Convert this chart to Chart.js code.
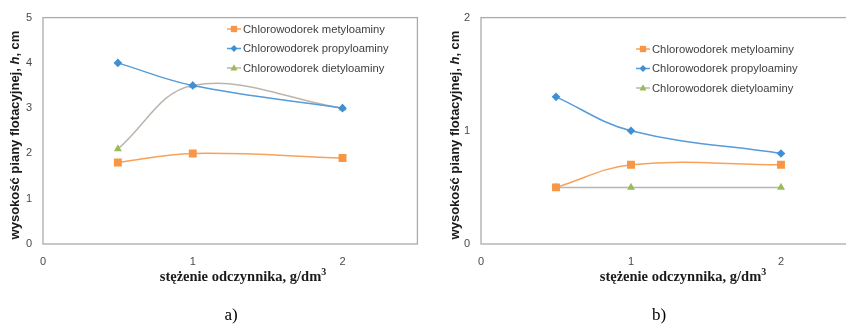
<!DOCTYPE html>
<html><head><meta charset="utf-8">
<script src="https://cdn.jsdelivr.net/npm/chart.js@4.4.0/dist/chart.umd.min.js"></script>
<style>
html,body{margin:0;padding:0;background:#fff;}
#wrap{position:relative;width:846px;height:326px;overflow:hidden;background:#fff;}
#boxA{position:absolute;left:0;top:0;width:423px;height:326px;}
#boxB{position:absolute;left:423px;top:0;width:440px;height:326px;}
canvas{display:block}
</style></head><body>
<div id="wrap"><div id="boxA"><canvas id="cA" width="423" height="326"></canvas></div><div id="boxB"><canvas id="cB" width="440" height="326"></canvas></div></div>
<script>
// ---- data ----
const concentrations = [0.5, 1, 2];
const seriesLabels = ['Chlorowodorek metyloaminy', 'Chlorowodorek propyloaminy', 'Chlorowodorek dietyloaminy'];
const metylA = [1.8, 2.0, 1.9];
const propylA = [4.0, 3.5, 3.0];
const dietylA = [2.1, 3.5, 3.0];
const metylB = [0.5, 0.7, 0.7];
const propylB = [1.3, 1.0, 0.8];
const dietylB = [0.5, 0.5, 0.5];
const xTicks = [0, 1, 2];
const yTicksA = [0, 1, 2, 3, 4, 5];
const yTicksB = [0, 1, 2];
const yTitleRuns = [['wysokość piany flotacyjnej, ', 'normal'], ['h', 'italic'], [', cm', 'normal']];
const xTitleText = 'stężenie odczynnika, g/dm';
const xTitleSup = '3';

// ---- styles ----
const styles = [
  {line: '#f7a25a', fill: '#f79646', shape: 'rect', r: 5.6},
  {line: '#559cd8', fill: '#3f8fd6', shape: 'rectRot', r: 4.3},
  {line: '#bdb5ad', fill: '#9bbb59', shape: 'triangle', r: 4.6}
];

function pts(vals) { return concentrations.map((x, i) => ({x: x, y: vals[i]})); }

function drawShape(ctx, shape, x, y, r, color) {
  ctx.fillStyle = color;
  ctx.beginPath();
  if (shape === 'rect') {
    const s = r * Math.SQRT1_2;
    ctx.rect(x - s, y - s, 2 * s, 2 * s);
  } else if (shape === 'rectRot') {
    ctx.moveTo(x, y - r); ctx.lineTo(x + r, y); ctx.lineTo(x, y + r); ctx.lineTo(x - r, y); ctx.closePath();
  } else {
    ctx.moveTo(x, y - r); ctx.lineTo(x + r * 0.95, y + r * 0.7); ctx.lineTo(x - r * 0.95, y + r * 0.7); ctx.closePath();
  }
  ctx.fill();
}

function drawRuns(ctx, runs, cx, cy) {
  let total = 0;
  runs.forEach(r => { ctx.font = r.f; r.w = ctx.measureText(r.t).width; total += r.w; });
  let x = cx - total / 2;
  ctx.textAlign = 'left';
  ctx.textBaseline = 'middle';
  runs.forEach(r => { ctx.font = r.f; ctx.fillText(r.t, x, cy + (r.dy || 0)); x += r.w; });
}

const decor = {
  id: 'decor',
  beforeDatasetsDraw(chart, args, o) {
    const ctx = chart.ctx, a = chart.chartArea;
    ctx.save();
    ctx.strokeStyle = '#ababab';
    ctx.lineWidth = 1.3;
    ctx.strokeRect(a.left, a.top, a.right - a.left, a.bottom - a.top);
    ctx.restore();
  },
  afterDraw(chart, args, o) {
    const ctx = chart.ctx, a = chart.chartArea;
    ctx.save();
    // legend
    chart.data.datasets.forEach((ds, i) => {
      const st = styles[i];
      const y = o.legY + i * o.legGap;
      ctx.strokeStyle = st.line; ctx.lineWidth = 1.5;
      ctx.beginPath(); ctx.moveTo(o.legX, y); ctx.lineTo(o.legX + 14, y); ctx.stroke();
      drawShape(ctx, st.shape, o.legX + 7, y, st.r * 0.8, st.fill);
      ctx.fillStyle = '#404040';
      ctx.font = '11.25px "Liberation Sans", Arial, sans-serif';
      ctx.textAlign = 'left'; ctx.textBaseline = 'middle';
      ctx.fillText(ds.label, o.legX + 16, y + 0.5);
    });
    // y title
    ctx.fillStyle = '#1a1a1a';
    ctx.save();
    ctx.translate(a.left - o.yTitleOff, 135);
    ctx.rotate(-Math.PI / 2);
    drawRuns(ctx, yTitleRuns.map(r => ({t: r[0], f: (r[1] === 'italic' ? 'italic ' : '') + 'bold 13px "Liberation Sans", Arial, sans-serif'})), 0, 0);
    ctx.restore();
    // x title
    drawRuns(ctx, [
      {t: xTitleText, f: 'bold 14.5px "Liberation Serif", "DejaVu Serif", serif'},
      {t: xTitleSup, f: 'bold 10px "Liberation Serif", serif', dy: -5}
    ], o.xTitleX, 277);
    // caption
    ctx.fillStyle = '#000';
    ctx.font = '17px "Liberation Serif", serif';
    ctx.textAlign = 'center'; ctx.textBaseline = 'middle';
    ctx.fillText(o.caption, o.capX, 316);
    ctx.restore();
  }
};

function makeChart(id, vals, yMax, yTicks, padRight, yWidth, opts) {
  const datasets = vals.map((v, i) => ({
    label: seriesLabels[i],
    data: pts(v),
    borderColor: styles[i].line,
    backgroundColor: styles[i].fill,
    pointBackgroundColor: styles[i].fill,
    pointBorderWidth: 0,
    pointStyle: styles[i].shape,
    pointRadius: styles[i].r,
    pointHoverRadius: styles[i].r,
    borderWidth: 1.5,
    tension: 0.38,
    fill: false
  }));
  return new Chart(document.getElementById(id), {
    type: 'line',
    data: {datasets: datasets},
    options: {
      responsive: false,
      animation: false,
      devicePixelRatio: 1,
      layout: {padding: {top: 16, right: padRight, left: 0, bottom: 0}},
      plugins: {legend: {display: false}, tooltip: {enabled: false}, decor: opts},
      scales: {
        x: {
          type: 'linear', min: 0, max: 2.5,
          afterFit: s => { s.height = 82; },
          afterBuildTicks: s => { s.ticks = xTicks.map(v => ({value: v})); },
          grid: {display: false, drawTicks: false},
          border: {display: false},
          ticks: {padding: 11, color: '#4a4a4a', font: {family: '"Liberation Sans", Arial, sans-serif', size: 11}}
        },
        y: {
          type: 'linear', min: 0, max: yMax,
          afterFit: s => { s.width = yWidth; },
          afterBuildTicks: s => { s.ticks = yTicks.map(v => ({value: v})); },
          grid: {display: false, drawTicks: false},
          border: {display: false},
          ticks: {padding: 11, color: '#4a4a4a', font: {family: '"Liberation Sans", Arial, sans-serif', size: 11}}
        }
      }
    },
    plugins: [decor]
  });
}

makeChart('cA', [metylA, propylA, dietylA], 5, yTicksA, 5, 43,
  {legX: 227, legY: 29, legGap: 19.5, yTitleOff: 28, xTitleX: 243, caption: 'a)', capX: 231});
makeChart('cB', [metylB, propylB, dietylB], 2, yTicksB, 7, 58,
  {legX: 213, legY: 49, legGap: 19.5, yTitleOff: 26, xTitleX: 260, caption: 'b)', capX: 236});
</script>
</body></html>
